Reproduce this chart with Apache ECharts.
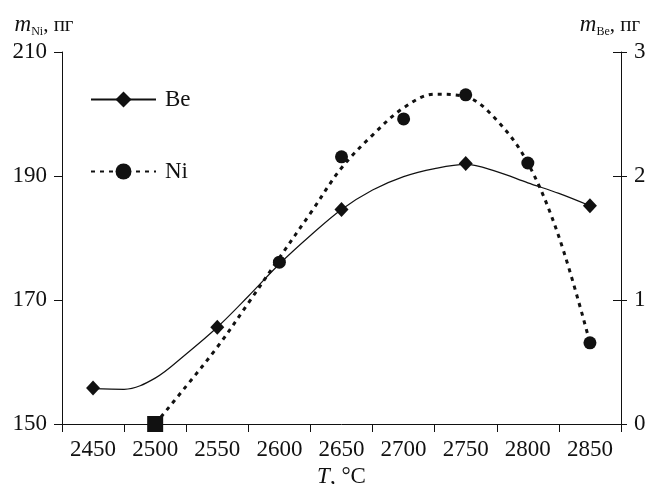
<!DOCTYPE html>
<html>
<head>
<meta charset="utf-8">
<script src="https://cdn.jsdelivr.net/npm/echarts@6/dist/echarts.min.js"></script>
<style>
  html, body { margin: 0; padding: 0; background: #fff; }
  #main { width: 650px; height: 484px; }
</style>
</head>
<body>
<div id="main"></div>
<script>
// подписи оси температур
var tempLabels = ['2450', '2500', '2550', '2600', '2650', '2700', '2750', '2800', '2850'];

// Be (правая ось, пг)
var beTemp = [2450, 2550, 2650, 2750, 2850];
var beMass = [0.29, 0.78, 1.73, 2.10, 1.76];
// сглаженная кривая Be
var beCurveTemp = [2450, 2475, 2500, 2525, 2550, 2575, 2600, 2625, 2650, 2675, 2700, 2725, 2750, 2775, 2800, 2825, 2850];
var beCurve = [0.285, 0.28, 0.37, 0.565, 0.78, 1.03, 1.29, 1.52, 1.73, 1.887, 1.995, 2.06, 2.094, 2.035, 1.945, 1.86, 1.76];

// Ni (левая ось, пг)
var niTemp = [2600, 2650, 2700, 2750, 2800, 2850];
var niMass = [176.1, 193.1, 199.2, 203.1, 192.1, 163.1];
var niZeroTemp = [2500];
var niZeroMass = [150];
// сглаженная кривая Ni
var niCurveTemp = [2500, 2525, 2550, 2575, 2600, 2625, 2650, 2675, 2700, 2725, 2750, 2775, 2800, 2825, 2850];
var niCurve = [150, 156.1, 162.4, 169.5, 176.8, 184.0, 191.3, 196.6, 201.0, 203.2, 202.8, 199.0, 192.1, 180.2, 163.1];

function pairs(xs, ys) {
    var out = [];
    for (var i = 0; i < xs.length; i++) {
        out.push([xs[i], ys[i]]);
    }
    return out;
}

var ink = '#111';
var font = 'Liberation Serif';
var fs = 23;

var nameRich = {
    m: { fontFamily: font, fontStyle: 'italic', fontSize: 23, color: ink },
    sub: { fontFamily: font, fontSize: 12, color: ink, verticalAlign: 'bottom', padding: [14, 0, 0, 0] },
    u: { fontFamily: font, fontSize: 21, color: ink }
};

var myChart = echarts.init(document.getElementById('main'));

var option = {
    backgroundColor: '#fff',
    animation: false,
    grid: { left: 62, right: 29, top: 52, bottom: 60, containLabel: false, outerBoundsMode: 'none' },
    legend: {
        orient: 'vertical',
        left: 90,
        top: 88,
        itemWidth: 65,
        itemHeight: 20,
        itemGap: 49,
        padding: 0,
        data: ['Be', 'Ni'],
        textStyle: { fontFamily: font, fontSize: fs, color: ink, padding: [0, 0, 0, 4] }
    },
    xAxis: [{
        type: 'category',
        data: tempLabels,
        boundaryGap: true,
        position: 'bottom',
        name: '{t|T}{u|, °C}',
        nameLocation: 'middle',
        nameGap: 36,
        nameTextStyle: {
            rich: {
                t: { fontFamily: font, fontStyle: 'italic', fontSize: fs, color: ink },
                u: { fontFamily: font, fontSize: fs, color: ink }
            }
        },
        axisLine: { lineStyle: { color: ink, width: 1 } },
        axisTick: { show: true, length: 8, alignWithLabel: false, lineStyle: { color: ink } },
        axisLabel: { fontFamily: font, fontSize: fs, color: ink, margin: 14 },
        splitLine: { show: false }
    }, {
        type: 'value',
        show: false,
        position: 'top',
        min: 2425,
        max: 2875
    }],
    yAxis: [{
        type: 'value',
        position: 'left',
        min: 150,
        max: 210,
        interval: 20,
        name: '{m|m}{sub|Ni}{u|, пг}',
        nameLocation: 'end',
        nameGap: 14,
        nameTextStyle: { align: 'center', padding: [0, 36, 0, 0], rich: nameRich },
        axisLine: { show: true, lineStyle: { color: ink, width: 1 } },
        axisTick: { show: true, length: 8, lineStyle: { color: ink } },
        axisLabel: { fontFamily: font, fontSize: fs, color: ink, margin: 15 },
        splitLine: { show: false }
    }, {
        type: 'value',
        position: 'right',
        min: 0,
        max: 3,
        interval: 1,
        name: '{m|m}{sub|Be}{u|, пг}',
        nameLocation: 'end',
        nameGap: 14,
        nameTextStyle: { align: 'center', padding: [0, 22, 0, 0], rich: nameRich },
        axisLine: { show: true, lineStyle: { color: ink, width: 1 } },
        axisTick: { show: true, inside: true, length: 8, lineStyle: { color: ink } },
        axisLabel: { fontFamily: font, fontSize: fs, color: ink, margin: 13 },
        splitLine: { show: false }
    }, {
        type: 'value',
        position: 'right',
        min: 0,
        max: 3,
        interval: 1,
        axisLine: { show: false },
        axisTick: { show: true, length: 6, lineStyle: { color: ink } },
        axisLabel: { show: false },
        splitLine: { show: false }
    }],
    series: [{
        name: 'Be',
        type: 'line',
        xAxisIndex: 1,
        yAxisIndex: 1,
        data: pairs(beCurveTemp, beCurve),
        smooth: 0.35,
        symbol: 'diamond',
        symbolSize: 15,
        showSymbol: false,
        lineStyle: { color: ink, width: 1.2 },
        itemStyle: { color: ink, opacity: 1 },
        z: 2
    }, {
        name: 'Ni',
        type: 'line',
        xAxisIndex: 1,
        yAxisIndex: 0,
        data: pairs(niCurveTemp, niCurve),
        smooth: 0.35,
        symbol: 'circle',
        symbolSize: 13,
        showSymbol: false,
        lineStyle: { color: ink, width: 3, type: [4, 5] },
        itemStyle: { color: ink, opacity: 1 },
        z: 2
    }, {
        name: 'Be points',
        type: 'scatter',
        xAxisIndex: 1,
        yAxisIndex: 1,
        data: pairs(beTemp, beMass),
        symbol: 'diamond',
        symbolSize: [14, 15],
        itemStyle: { color: ink, opacity: 1 },
        z: 3
    }, {
        name: 'Ni points',
        type: 'scatter',
        xAxisIndex: 1,
        yAxisIndex: 0,
        data: pairs(niTemp, niMass),
        symbol: 'circle',
        symbolSize: 13,
        itemStyle: { color: ink, opacity: 1 },
        z: 3
    }, {
        name: 'Ni zero',
        type: 'scatter',
        xAxisIndex: 1,
        yAxisIndex: 0,
        data: pairs(niZeroTemp, niZeroMass),
        symbol: 'rect',
        symbolSize: 16,
        itemStyle: { color: ink, opacity: 1 },
        clip: false,
        z: 4
    }]
};

myChart.setOption(option);
</script>
</body>
</html>
